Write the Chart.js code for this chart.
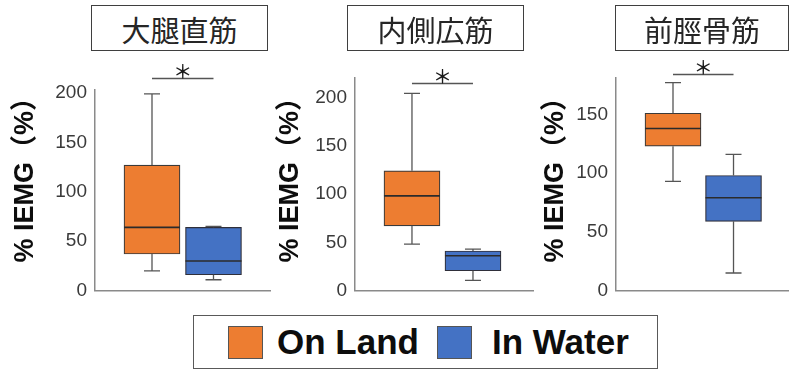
<!DOCTYPE html>
<html>
<head>
<meta charset="utf-8">
<script src="https://cdn.jsdelivr.net/npm/chart.js@4"></script>
<style>
  html, body { margin: 0; padding: 0; background: #fff; }
  body { width: 789px; height: 373px; position: relative; overflow: hidden; }
  canvas.panel { position: absolute; top: 0; }
  .muscle {
    position: absolute; top: 5px; height: 46px; box-sizing: border-box;
    border: 1px solid #3f3f3f; background: #fff;
    display: flex; align-items: center; justify-content: center;
    font-family: "Noto Sans CJK JP", sans-serif; font-size: 29px; color: #262626;
    padding-top: 2px;
  }
  .legend {
    position: absolute; left: 193px; top: 315px; width: 465px; height: 54px;
    box-sizing: border-box; border: 1px solid #595959; background: #fff;
  }
  .swatch { position: absolute; top: 10px; width: 35px; height: 33px; box-sizing: border-box; border: 1px solid #555; }
  .lbl {
    position: absolute; top: 3px; height: 46px; line-height: 46px;
    font-family: "Liberation Sans", Arial, sans-serif; font-weight: bold; font-size: 35px; color: #0d0d0d;
  }
</style>
</head>
<body>
<canvas id="c0" class="panel" width="275" height="310" style="left:0px"></canvas>
<canvas id="c1" class="panel" width="265" height="310" style="left:275px"></canvas>
<canvas id="c2" class="panel" width="249" height="310" style="left:540px"></canvas>

<div class="muscle" style="left:91px;width:177px">大腿直筋</div>
<div class="muscle" style="left:347px;width:177px">内側広筋</div>
<div class="muscle" style="left:615px;width:174px">前脛骨筋</div>

<div class="legend">
  <div class="swatch" style="left:34px;background:#ED7D31"></div>
  <div class="lbl" style="left:83px">On Land</div>
  <div class="swatch" style="left:243px;background:#4472C4"></div>
  <div class="lbl" style="left:298px">In Water</div>
</div>

<script>
// Muscles and conditions
const muscles = ['大腿直筋', '内側広筋', '前脛骨筋'];
const conditions = ['On Land', 'In Water'];

// Box-plot statistics of %IEMG, one entry per muscle
const landMin    = [20, 48, 93];
const landQ1     = [37, 67, 123];
const landMedian = [64, 98, 138];
const landQ3     = [127, 124, 151];
const landMax    = [199, 204, 177];

const waterMin    = [11, 10.5, 15];
const waterQ1     = [16, 20.5, 59];
const waterMedian = [30, 36, 79];
const waterQ3     = [64, 41, 98];
const waterMax    = [65, 43, 116];

// Significance bracket level (in %IEMG units) for each muscle
const sigLevel = [215, 215, 184];

// Y-axis tick values
const yTicks = [0, 50, 100, 150, 200];
const yAxisTitle = '% IEMG（%）';

const COLORS = { land: '#ED7D31', water: '#4472C4' };

// Per-panel layout
const panels = [
  { id: 'c0', yMax: 203, yWidth: 95, pad: { top: 90, right: 5, bottom: 17, left: 0 }, xMin: -0.927, xMax: 1.919, titleGap: 69 },
  { id: 'c1', yMax: 220, yWidth: 80, pad: { top: 78, right: 7, bottom: 17, left: 0 }, xMin: -0.934, xMax: 1.984, titleGap: 64 },
  { id: 'c2', yMax: 181, yWidth: 76, pad: { top: 78, right: 0, bottom: 17, left: 0 }, xMin: -0.942, xMax: 1.917, titleGap: 60 }
];

// Whiskers, caps and median lines drawn on top of the floating bars
const boxWhiskers = {
  id: 'boxWhiskers',
  afterDatasetsDraw(chart) {
    const { ctx } = chart;
    const y = chart.scales.y;
    chart.data.datasets.forEach((ds, i) => {
      const meta = chart.getDatasetMeta(i);
      meta.data.forEach((bar, j) => {
        const s = ds.stats[j];
        const { x, width } = bar.getProps(['x', 'width'], true);
        const pTop = y.getPixelForValue(s.q3);
        const pBot = y.getPixelForValue(s.q1);
        const pMax = y.getPixelForValue(s.max);
        const pMin = y.getPixelForValue(s.min);
        const pMed = y.getPixelForValue(s.median);
        const cap = 8;
        ctx.save();
        ctx.strokeStyle = '#555';
        ctx.lineWidth = 1.3;
        ctx.beginPath();
        ctx.moveTo(x, pTop); ctx.lineTo(x, pMax);
        ctx.moveTo(x - cap, pMax); ctx.lineTo(x + cap, pMax);
        ctx.moveTo(x, pBot); ctx.lineTo(x, pMin);
        ctx.moveTo(x - cap, pMin); ctx.lineTo(x + cap, pMin);
        ctx.stroke();
        ctx.strokeStyle = '#2b2b2b';
        ctx.lineWidth = 1.6;
        ctx.beginPath();
        ctx.moveTo(x - width / 2, pMed); ctx.lineTo(x + width / 2, pMed);
        ctx.stroke();
        ctx.restore();
      });
    });
  }
};

// Significance bracket with asterisk, and rotated y-axis title
const annotations = {
  id: 'annotations',
  afterDraw(chart, args, opts) {
    const { ctx, chartArea } = chart;
    const y = chart.scales.y;
    const a = chart.getDatasetMeta(0).data[0];
    const b = chart.getDatasetMeta(1).data[0];
    const py = Math.round(y.getPixelForValue(opts.level)) + 0.5;
    ctx.save();
    ctx.strokeStyle = '#555';
    ctx.lineWidth = 1.3;
    ctx.beginPath();
    ctx.moveTo(a.x, py); ctx.lineTo(b.x, py);
    ctx.stroke();
    ctx.fillStyle = '#1a1a1a';
    ctx.font = '500 19px "Noto Sans CJK JP"';
    ctx.textAlign = 'center';
    ctx.textBaseline = 'alphabetic';
    ctx.fillText('＊', (a.x + b.x) / 2, py);
    ctx.restore();

    ctx.save();
    ctx.translate(chartArea.left - opts.titleGap, chartArea.bottom - 28);
    ctx.rotate(-Math.PI / 2);
    ctx.fillStyle = '#0d0d0d';
    ctx.font = 'bold 27px "Liberation Sans", "Noto Sans CJK JP"';
    ctx.textAlign = 'left';
    ctx.textBaseline = 'middle';
    ctx.fillText(yAxisTitle, 0, 0);
    ctx.restore();
  }
};

function stats(min, q1, median, q3, max, k) {
  return { min: min[k], q1: q1[k], median: median[k], q3: q3[k], max: max[k] };
}

panels.forEach((p, k) => {
  new Chart(document.getElementById(p.id), {
    type: 'bar',
    data: {
      datasets: [
        {
          label: conditions[0],
          data: [{ x: 0, y: [landQ1[k], landQ3[k]] }],
          stats: [stats(landMin, landQ1, landMedian, landQ3, landMax, k)],
          backgroundColor: COLORS.land,
          borderColor: '#3a3a3a',
          borderWidth: 1.2,
          borderSkipped: false,
          grouped: false,
          barThickness: 56
        },
        {
          label: conditions[1],
          data: [{ x: 1, y: [waterQ1[k], waterQ3[k]] }],
          stats: [stats(waterMin, waterQ1, waterMedian, waterQ3, waterMax, k)],
          backgroundColor: COLORS.water,
          borderColor: '#2f2f3a',
          borderWidth: 1.2,
          borderSkipped: false,
          grouped: false,
          barThickness: 56
        }
      ]
    },
    options: {
      responsive: false,
      animation: false,
      events: [],
      layout: { padding: p.pad },
      plugins: {
        legend: { display: false },
        tooltip: { enabled: false },
        annotations: { level: sigLevel[k], titleGap: p.titleGap }
      },
      scales: {
        x: {
          type: 'linear',
          offset: false,
          min: p.xMin,
          max: p.xMax,
          grid: { display: false, drawTicks: false },
          border: { display: true, color: '#8a8a8a', width: 1.5 },
          ticks: { display: false },
          afterFit(scale) { scale.height = 0; }
        },
        y: {
          min: 0,
          max: p.yMax,
          grid: { display: false, drawTicks: false },
          border: { display: true, color: '#8a8a8a', width: 1.5 },
          ticks: {
            stepSize: 50,
            includeBounds: false,
            padding: 8,
            color: '#3a3a3a',
            font: { family: '"Liberation Sans", Arial', size: 19 }
          },
          afterBuildTicks(scale) {
            scale.ticks = yTicks.filter(v => v <= p.yMax).map(v => ({ value: v }));
          },
          afterFit(scale) { scale.width = p.yWidth; }
        }
      }
    },
    plugins: [boxWhiskers, annotations]
  });
});
</script>
</body>
</html>
